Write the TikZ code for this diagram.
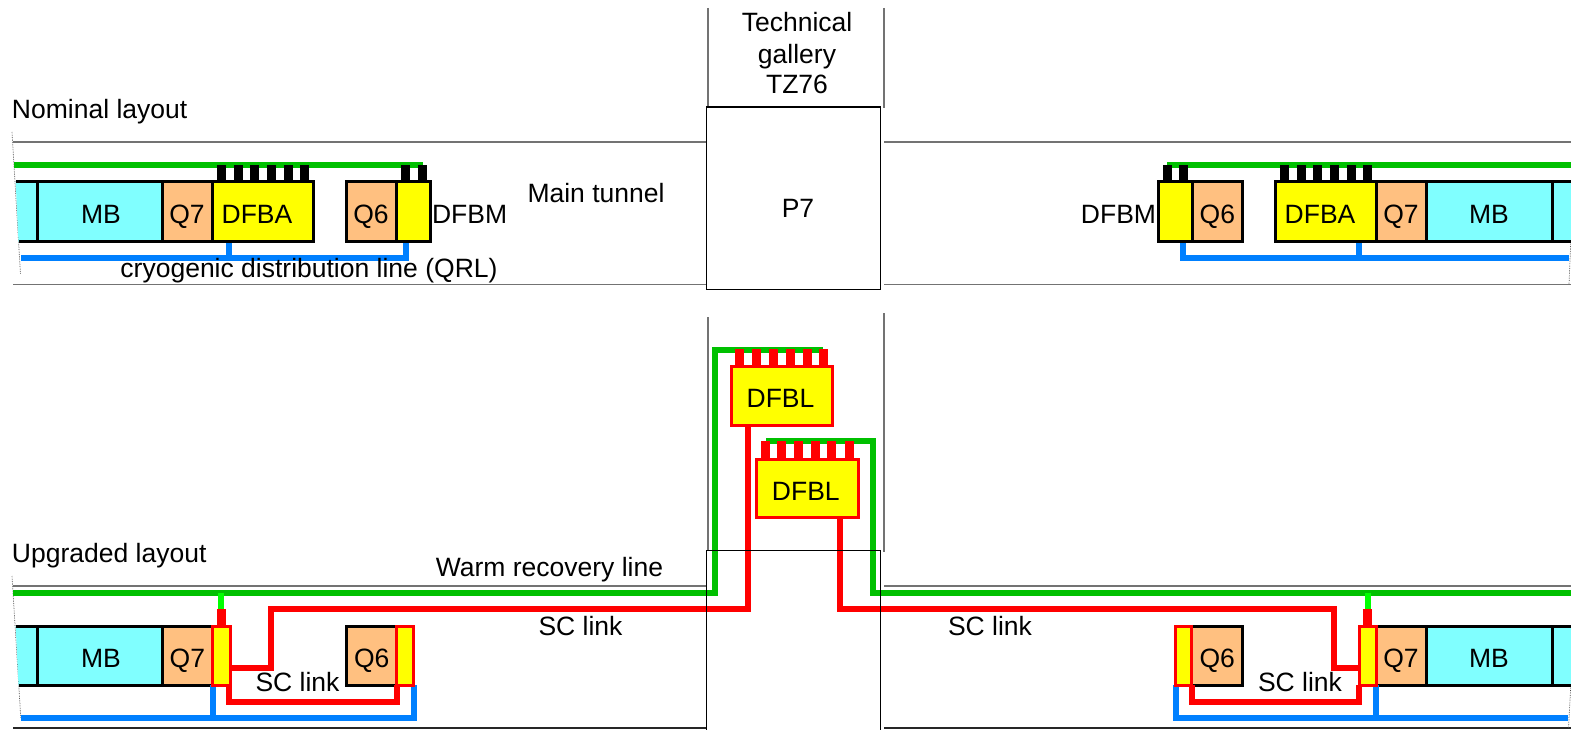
\documentclass[tikz,border=0pt]{standalone}
\usepackage{fontspec}
\setmainfont{Liberation Sans}
\definecolor{cMB}{HTML}{80FFFF}
\definecolor{cQ}{HTML}{FFC080}
\definecolor{cY}{HTML}{FFFF00}
\definecolor{cG}{HTML}{00C000}
\definecolor{cBG}{HTML}{00FF00}
\definecolor{cB}{HTML}{0080FF}
\definecolor{cR}{HTML}{FF0000}
\tikzset{
  cell/.style={draw=black,line width=3pt,anchor=north west,inner sep=0pt,outer sep=0pt,font=\fontsize{26.5}{26.5}\selectfont,text=black,text height=23pt,text depth=0pt},
  mbcell/.style={cell,fill=cMB},
  qcell/.style={cell,fill=cQ},
  ycell/.style={cell,fill=cY},
  rcell/.style={cell,fill=cY,draw=cR},
  blackstub/.style={fill=black,draw=none,anchor=north west,inner sep=0pt,outer sep=0pt,minimum width=9pt,minimum height=17pt},
  redstub/.style={blackstub,fill=cR},
  txt/.style={inner sep=0pt,outer sep=0pt,font=\fontsize{26.5}{26.5}\selectfont,text=black,text height=19pt,text depth=0pt},
  tunnelg/.style={draw=black!55,line width=1.6pt},
  tunnelk/.style={draw=black!85,line width=1.3pt},
  shaft/.style={draw=black,line width=1.2pt},
  breakline/.style={draw=black!70,line width=.7pt,densely dotted},
  greenl/.style={draw=cG,line width=6pt,line join=miter},
  bluel/.style={draw=cB,line width=6pt,line join=miter},
  redl/.style={draw=cR,line width=6pt,line join=miter},
}
\begin{document}
\begin{tikzpicture}[x=1pt,y=-1pt]
\useasboundingbox (0,0) rectangle (1571,730);
\clip (0,0) rectangle (1571,730);
% ---------- tunnel walls
\foreach \n/\xa/\xb/\ya in {wa/13/707/142,wb/13/707/284.5,wc/884/1571/142,wd/884/1571/284.5,we/13/707/585.7,wf/884/1571/585.7}{
  \coordinate (\n l) at (\xa,\ya); \coordinate (\n r) at (\xb,\ya);
  \draw[tunnelg] (\n l) -- (\n r);
}
\foreach \n/\xa/\xb/\ya in {wg/13/707/728,wh/884/1571/728}{
  \coordinate (\n l) at (\xa,\ya); \coordinate (\n r) at (\xb,\ya);
  \draw[tunnelk] (\n l) -- (\n r);
}
\foreach \n/\xx/\ya/\yb in {ga/707.7/8/108,gb/883.7/8/108,gc/707.7/317/551,gd/883.7/313/552}{
  \coordinate (\n t) at (\xx,\ya); \coordinate (\n b) at (\xx,\yb);
  \draw[tunnelg] (\n t) -- (\n b);
}
% break lines
\coordinate (br1a) at (12,132); \coordinate (br1b) at (20.5,274);
\coordinate (br2a) at (12,576); \coordinate (br2b) at (20.8,718);
\coordinate (br3a) at (1570.8,241); \coordinate (br3b) at (1569,284);
\coordinate (br4a) at (1570.8,685); \coordinate (br4b) at (1568.5,728);
\draw[breakline] (br1a)--(br1b); \draw[breakline] (br2a)--(br2b);
\draw[breakline] (br3a)--(br3b); \draw[breakline] (br4a)--(br4b);

% ---------- NOMINAL green lines
\coordinate (g1a) at (14,165); \coordinate (g1b) at (423,165);
\coordinate (g2a) at (1167,165); \coordinate (g2b) at (1571,165);
\draw[greenl] (g1a)--(g1b);
\draw[greenl] (g2a)--(g2b);
% stubs
\foreach \i/\xx in {1/217,2/234,3/250,4/267,5/284,6/300,7/401,8/418,9/1163.3,10/1179.3,11/1280,12/1297,13/1313,14/1330,15/1347,16/1363}{
  \node[blackstub] (ns\i) at (\xx,165) {};
}
% ---------- NOMINAL blue lines
\coordinate (b1a) at (21,257.7);
\coordinate (b1m) at (229,241.7);
\coordinate (b1e) at (405.5,241.7);
\draw[bluel] (b1a) -- (b1e |- b1a) -- (b1e);
\draw[bluel] (b1m) -- (b1m |- b1a);
\coordinate (b2a) at (1569,257.5);
\coordinate (b2m) at (1359,241.7);
\coordinate (b2e) at (1183,241.7);
\draw[bluel] (b2a) -- (b2e |- b2a) -- (b2e);
\draw[bluel] (b2m) -- (b2m |- b2a);

% ---------- NOMINAL boxes, left
\fill[cMB] (15.7,182) -- (37,182) -- (37,241.7) -- (18.5,241.7) -- cycle;
\draw[black,line width=3pt] (15.7,182) -- (37,182) (18.5,241.7) -- (37,241.7);
\node[mbcell,minimum width=125pt,minimum height=59.7pt] (mb1) at (37,182) {\hspace*{3pt}MB};
\node[qcell,minimum width=50pt,minimum height=59.7pt] (q71) at (162,182) {Q7};
\node[ycell,minimum width=101pt,minimum height=59.7pt] (dfba1) at (212,182) {};
\node[txt] (dfba1t) at (257,214) {DFBA};
\node[qcell,minimum width=50pt,minimum height=59.7pt] (q61) at (346,182) {Q6};
\node[ycell,minimum width=34pt,minimum height=59.7pt] (dfbm1) at (396,182) {};
% NOMINAL boxes, right
\fill[cMB] (1552,182) rectangle (1572,241.7);
\draw[black,line width=3pt] (1552,182) -- (1572,182) (1552,241.7) -- (1572,241.7);
\node[mbcell,minimum width=126pt,minimum height=59.7pt] (mb2) at (1426,182) {MB};
\node[qcell,minimum width=50pt,minimum height=59.7pt] (q72) at (1376,182) {Q7};
\node[ycell,minimum width=101pt,minimum height=59.7pt] (dfba2) at (1275,182) {};
\node[txt] (dfba2t) at (1320,214) {DFBA};
\node[qcell,minimum width=50.7pt,minimum height=59.7pt] (q62) at (1192,182) {Q6};
\node[ycell,minimum width=34pt,minimum height=59.7pt] (dfbm2) at (1158,182) {};

% ---------- UPGRADED green
\coordinate (ug1a) at (13,592.7);
\coordinate (ug1c) at (715,349.5);
\coordinate (ug1d) at (823,349.5);
\draw[greenl] (ug1a) -| (ug1c) -- (ug1d);
\coordinate (ug2a) at (1571,592.7);
\coordinate (ug2c) at (873.3,441.3);
\coordinate (ug2d) at (765.7,441.3);
\draw[greenl] (ug2a) -| (ug2c) -- (ug2d);
% bright green tees
\coordinate (t1a) at (220.7,592.7); \coordinate (t1b) at (220.7,609);
\coordinate (t2a) at (1368,592.7); \coordinate (t2b) at (1368,609);
\draw[draw=cBG,line width=6pt] (t1a)--(t1b);
\draw[draw=cBG,line width=6pt] (t2a)--(t2b);
\node[redstub] (us1) at (217,609) {};
\node[redstub] (us2) at (1363.3,609) {};

% ---------- UPGRADED boxes
\fill[cMB] (15.7,626) -- (37,626) -- (37,685) -- (18.5,685) -- cycle;
\draw[black,line width=3pt] (15.7,626) -- (37,626) (18.5,685) -- (37,685);
\node[mbcell,minimum width=125pt,minimum height=59pt] (mb3) at (37,626) {\hspace*{3pt}MB};
\node[qcell,minimum width=50.7pt,minimum height=59pt] (q73) at (162,626) {Q7};
\node[qcell,minimum width=50pt,minimum height=59pt] (q63) at (346.7,626) {Q6};
\fill[cMB] (1552,626) rectangle (1572,685);
\draw[black,line width=3pt] (1552,626) -- (1572,626) (1552,685) -- (1572,685);
\node[mbcell,minimum width=126pt,minimum height=59pt] (mb4) at (1426,626) {MB};
\node[qcell,minimum width=50pt,minimum height=59pt] (q74) at (1376,626) {Q7};
\node[qcell,minimum width=51pt,minimum height=59pt] (q64) at (1191.7,626) {Q6};

% blue upgraded
\coordinate (ub1a) at (21,718.3);
\coordinate (ub1m) at (212.7,685);
\coordinate (ub1e) at (414.3,685);
\draw[bluel] (ub1a) -- (ub1e |- ub1a) -- (ub1e);
\draw[bluel] (ub1m) -- (ub1m |- ub1a);
\coordinate (ub2a) at (1568,718.3);
\coordinate (ub2m) at (1376,685);
\coordinate (ub2e) at (1175.7,685);
\draw[bluel] (ub2a) -- (ub2e |- ub2a) -- (ub2e);
\draw[bluel] (ub2m) -- (ub2m |- ub2a);

% DFBL
\foreach \i/\xx in {1/735,2/752,3/769,4/786,5/803,6/819}{
  \node[redstub] (la\i) at (\xx,349) {};
}
\foreach \i/\xx in {1/761,2/777,3/794,4/811,5/827,6/845}{
  \node[redstub,minimum height=18pt] (lb\i) at (\xx,441) {};
}
\node[rcell,minimum width=100.6pt,minimum height=59.7pt] (dfbl1) at (731.7,366) {\hspace*{-3pt}DFBL};
\node[rcell,text height=25pt,minimum width=101.3pt,minimum height=58pt] (dfbl2) at (756.7,459) {\hspace*{-3pt}DFBL};

% small yellow cryostats
\node[rcell,minimum width=17.3pt,minimum height=59pt] (y1) at (212.7,626) {};
\node[rcell,minimum width=17pt,minimum height=59pt] (y2) at (396.7,626) {};
\node[rcell,minimum width=16.7pt,minimum height=59pt] (y3) at (1359.3,626) {};
\node[rcell,minimum width=16pt,minimum height=59pt] (y4) at (1175.7,626) {};

% red links
\coordinate (ra) at (748.3,426);
\coordinate (rb) at (271,608.7);
\coordinate (rc) at (230,667.7);
\draw[redl] (ra) |- (rb) -- (rb |- rc) -- (rc);
\coordinate (rd) at (840.3,517);
\coordinate (re) at (1334.3,608.7);
\coordinate (rf) at (1359.3,667.5);
\draw[redl] (rd) |- (re) -- (re |- rf) -- (rf);
\coordinate (rg) at (229.3,685);
\coordinate (rh) at (396.7,685);
\coordinate (ri) at (229.3,701.7);
\draw[redl] (rg) -- (ri) -| (rh);
\coordinate (rj) at (1191.7,685);
\coordinate (rk) at (1359.3,685);
\coordinate (rl) at (1191.7,701.7);
\draw[redl] (rj) -- (rl) -| (rk);

% shafts
\node[shaft,draw,anchor=north west,inner sep=0pt,outer sep=0pt,minimum width=174pt,minimum height=182.5pt] (p7) at (706.3,107) {};
\coordinate (s1) at (706.3,730); \coordinate (s2) at (706.3,550.7);
\coordinate (s3) at (880.3,550.7); \coordinate (s4) at (880.3,730);
\draw[shaft] (s1)--(s2)--(s3)--(s4);

% labels
\node[txt,anchor=west] (l1) at (12,109.5) {Nominal layout};
\node[txt,anchor=west] (l2) at (12,553) {Upgraded layout};
\node[txt] (l3) at (596,193) {Main tunnel};
\node[txt] (l4) at (309,268) {cryogenic distribution line (QRL)};
\node[txt,anchor=west] (l5) at (432,214) {DFBM};
\node[txt,anchor=east] (l6) at (1156,214) {DFBM};
\node[txt] (l7) at (797,22.5) {Technical};
\node[txt] (l8) at (797,54) {gallery};
\node[txt] (l9) at (797,84) {TZ76};
\node[txt] (l10) at (798,208) {P7};
\node[txt] (l11) at (549.5,567) {Warm recovery line};
\node[txt] (l12) at (580.5,626) {SC link};
\node[txt] (l13) at (990,626) {SC link};
\node[txt] (l14) at (297.5,682) {SC link};
\node[txt] (l15) at (1300,682) {SC link};
\end{tikzpicture}
\end{document}
